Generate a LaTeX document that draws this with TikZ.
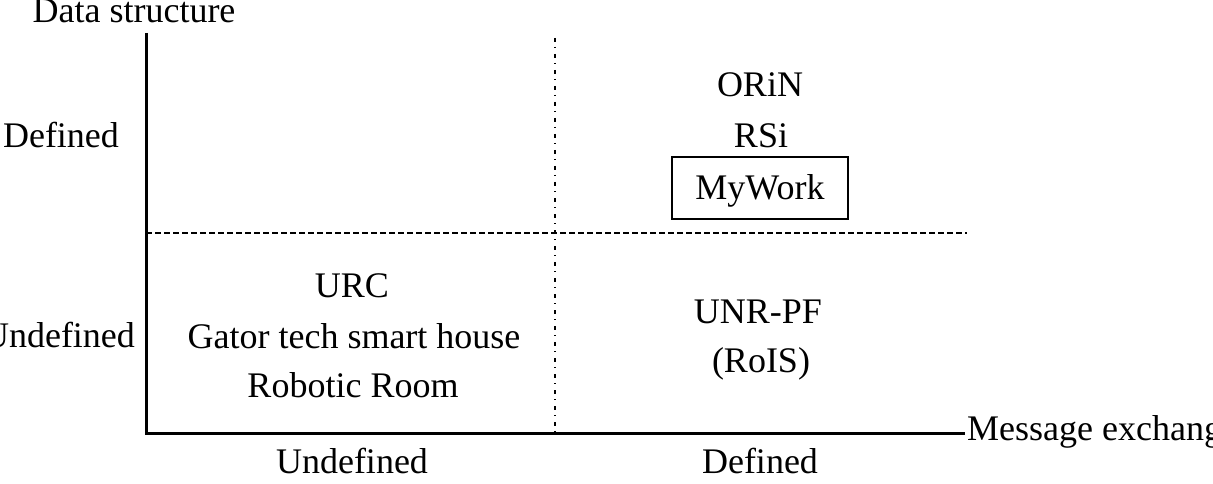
\documentclass[tikz,border=0pt]{standalone}
\usepackage{fontspec}
\setmainfont{Liberation Serif}
\begin{document}
\begin{tikzpicture}[x=1pt,y=-1pt,
  lbl/.style={font=\fontsize{36}{50}\selectfont, inner sep=0pt, anchor=base},
  axisline/.style={line width=3pt, line join=miter},
  quaddash/.style={line width=1.5pt, dash pattern=on 6pt off 3pt},
  quaddot/.style={line width=1.5pt, dash pattern=on 4pt off 5pt on 1pt off 6pt},
  workbox/.style={draw, line width=2pt, font=\fontsize{36}{50}\selectfont, minimum width=176pt, minimum height=62pt, text height=30pt, text depth=6pt, inner sep=0pt}]
\useasboundingbox (0,0) rectangle (1213,484);
\clip (0,0) rectangle (1213,484);
% axes
\coordinate (O) at (146,433);
\coordinate (Ytop) at (146,33);
\coordinate (Xend) at (965,433);
\coordinate (hL) at (146,233);
\coordinate (hR) at (967,233);
\coordinate (vT) at (555,38);
\coordinate (vB) at (555,433);
\draw[quaddash] (hL) -- (hR);
\draw[quaddot] (vT) -- (vB);
\draw[axisline] (Ytop) -- (O) -- (Xend);
% axis labels
\node[lbl] (ds) at (134,23) {Data structure};
\node[lbl, anchor=base west] (mx) at (967,440) {Message exchange};
\node[lbl] (ydef) at (61,148) {Defined};
\node[lbl] (yund) at (59,347) {Undefined};
\node[lbl] (xund) at (352,473) {Undefined};
\node[lbl] (xdef) at (760,473) {Defined};
% quadrant contents
\node[lbl] (orin) at (760,97) {ORiN};
\node[lbl] (rsi) at (761,148) {RSi};
\node[workbox] (mywork) at (760,188) {MyWork};
\node[lbl] (urc) at (352,297) {URC};
\node[lbl] (gator) at (354,348) {Gator tech smart house};
\node[lbl] (robotic) at (353,397) {Robotic Room};
\node[lbl] (unr) at (758,323) {UNR-PF};
\node[lbl] (rois) at (761,372) {(RoIS)};
\end{tikzpicture}
\end{document}
